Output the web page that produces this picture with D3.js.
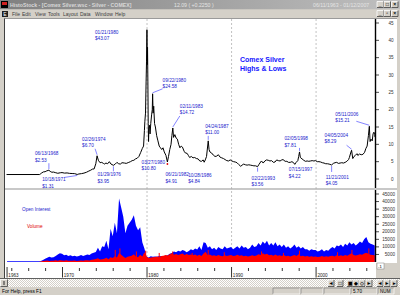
<!DOCTYPE html>
<html>
<head>
<meta charset="utf-8">
<script src="https://cdn.jsdelivr.net/npm/d3@7"></script>
<style>
body { margin: 0; background: #d4d0c8; }
svg { display: block; font-family: "Liberation Sans", Arial, sans-serif; }
</style>
</head>
<body>
<svg id="chart" width="400" height="295"></svg>
<script>
// Comex silver daily price ($/oz)
var priceDates = [1963.44, 1967.35, 1967.5, 1967.6, 1967.8, 1968.0, 1968.2, 1968.45, 1968.6, 1968.8,
    1969.0, 1969.2, 1969.5, 1969.8, 1970.0, 1970.3, 1970.6, 1970.9, 1971.2, 1971.5,
    1971.8, 1972.0, 1972.3, 1972.6, 1972.9, 1973.1, 1973.4, 1973.6, 1973.8, 1974.0,
    1974.15, 1974.3, 1974.5, 1974.7, 1974.9, 1975.0, 1975.2, 1975.4, 1975.6, 1975.8,
    1976.08, 1976.3, 1976.5, 1976.7, 1976.9, 1977.1, 1977.4, 1977.6, 1977.9, 1978.1,
    1978.3, 1978.5, 1978.7, 1978.9, 1979.1, 1979.3, 1979.5, 1979.65, 1979.75, 1979.8,
    1979.88, 1979.95, 1980.0, 1980.05, 1980.09, 1980.12, 1980.16, 1980.2, 1980.24, 1980.28,
    1980.35, 1980.42, 1980.5, 1980.6, 1980.68, 1980.72, 1980.78, 1980.85, 1980.95, 1981.05,
    1981.2, 1981.35, 1981.5, 1981.65, 1981.8, 1981.95, 1982.1, 1982.3, 1982.47, 1982.6,
    1982.75, 1982.9, 1983.0, 1983.11, 1983.2, 1983.35, 1983.5, 1983.65, 1983.8, 1983.95,
    1984.1, 1984.25, 1984.45, 1984.6, 1984.8, 1984.95, 1985.1, 1985.3, 1985.5, 1985.7,
    1985.9, 1986.1, 1986.3, 1986.5, 1986.7, 1986.82, 1986.95, 1987.1, 1987.3, 1987.4,
    1987.5, 1987.7, 1987.9, 1988.1, 1988.3, 1988.5, 1988.7, 1988.9, 1989.1, 1989.3,
    1989.5, 1989.7, 1989.9, 1990.1, 1990.3, 1990.5, 1990.7, 1990.9, 1991.15, 1991.3,
    1991.5, 1991.7, 1991.9, 1992.1, 1992.3, 1992.5, 1992.7, 1992.9, 1993.14, 1993.3,
    1993.5, 1993.6, 1993.8, 1994.0, 1994.2, 1994.4, 1994.6, 1994.8, 1995.0, 1995.2,
    1995.4, 1995.6, 1995.8, 1996.0, 1996.15, 1996.4, 1996.6, 1996.8, 1997.0, 1997.2,
    1997.4, 1997.54, 1997.7, 1997.9, 1998.0, 1998.1, 1998.2, 1998.4, 1998.6, 1998.8,
    1999.0, 1999.2, 1999.4, 1999.6, 1999.8, 2000.0, 2000.2, 2000.4, 2000.6, 2000.8,
    2001.0, 2001.2, 2001.4, 2001.6, 2001.9, 2002.1, 2002.3, 2002.5, 2002.7, 2002.9,
    2003.1, 2003.3, 2003.5, 2003.7, 2003.9, 2004.0, 2004.15, 2004.26, 2004.4, 2004.55,
    2004.7, 2004.9, 2005.0, 2005.2, 2005.4, 2005.6, 2005.8, 2005.95, 2006.1, 2006.25,
    2006.36, 2006.45, 2006.55, 2006.7, 2006.8, 2006.9, 2007.0, 2007.03];
var priceValues = [1.29, 1.29, 1.55, 1.75, 2.05, 2.10, 2.35, 2.53, 2.20, 1.95,
    2.00, 1.85, 1.65, 1.80, 1.85, 1.70, 1.75, 1.62, 1.58, 1.55,
    1.31, 1.45, 1.55, 1.70, 1.95, 2.20, 2.55, 2.85, 2.90, 4.40,
    6.70, 5.40, 4.70, 4.80, 4.50, 4.30, 4.60, 4.40, 5.00, 4.30,
    3.95, 4.30, 4.80, 4.40, 4.30, 4.70, 4.60, 4.50, 4.80, 5.00,
    5.30, 5.40, 5.80, 6.00, 6.50, 7.60, 8.80, 9.50, 14.0, 16.5,
    19.0, 28.0, 34.0, 43.07, 33.0, 38.0, 28.0, 16.0, 10.80, 14.5,
    15.5, 13.0, 16.0, 18.5, 20.0, 24.58, 19.0, 21.0, 16.0, 15.0,
    12.5, 11.0, 9.5, 9.0, 8.5, 9.0, 7.8, 6.8, 4.91, 6.5,
    8.5, 10.0, 12.5, 14.72, 12.0, 12.8, 11.8, 11.5, 10.0, 9.0,
    9.5, 9.2, 8.0, 7.5, 7.4, 6.8, 6.2, 6.5, 6.1, 6.2,
    5.9, 5.8, 5.2, 5.1, 5.5, 4.84, 5.5, 6.5, 11.0, 8.5,
    7.8, 7.5, 6.9, 6.5, 6.6, 7.0, 6.3, 6.1, 5.9, 5.6,
    5.3, 5.2, 5.5, 5.2, 5.0, 4.9, 4.7, 4.2, 3.65, 4.0,
    4.3, 4.1, 4.0, 4.1, 4.0, 3.9, 3.8, 3.8, 3.56, 4.2,
    4.9, 5.2, 4.6, 5.2, 5.5, 5.4, 5.2, 5.3, 4.8, 4.9,
    5.5, 5.3, 5.2, 5.5, 5.6, 5.1, 5.1, 4.8, 4.8, 5.0,
    4.7, 4.22, 4.8, 5.3, 6.5, 7.81, 6.2, 5.8, 5.4, 5.1,
    5.2, 5.1, 5.2, 5.3, 5.2, 5.3, 5.0, 5.0, 4.9, 4.7,
    4.6, 4.4, 4.4, 4.3, 4.05, 4.5, 4.7, 4.8, 4.5, 4.6,
    4.7, 4.6, 4.8, 5.1, 5.6, 6.2, 7.5, 8.29, 5.9, 6.5,
    6.8, 7.3, 6.8, 7.2, 7.0, 7.1, 7.7, 8.8, 9.5, 12.5,
    15.21, 10.8, 11.5, 11.0, 13.0, 13.5, 12.8, 12.09];

// highs & lows annotations
var annDates = [1968.45, 1971.8, 1974.15, 1976.08, 1980.05, 1980.24, 1980.72, 1982.47, 1983.11,
    1986.82, 1987.3, 1993.14, 1997.54, 1998.1, 2001.9, 2004.26, 2006.36];
var annPrices = [2.53, 1.31, 6.70, 3.95, 43.07, 10.80, 24.58, 4.91, 14.72,
    4.84, 11.00, 3.56, 4.22, 7.81, 4.05, 8.29, 15.21];
var annDateText = ["06/13/1968", "10/18/1971", "02/26/1974", "01/29/1976", "01/21/1980", "03/27/1980",
    "09/22/1980", "06/21/1982", "02/11/1983", "10/28/1986", "04/24/1987", "02/22/1993",
    "07/15/1997", "02/05/1998", "11/21/2001", "04/05/2004", "05/11/2006"];

// quarterly open interest and volume, thousands of contracts, from 1963.50
var quarterStart = 1963.5;
var openInterest = [0, 0,
    0, 0, 0, 0,  0, 0, 0, 0,  0, 0, 0, 0,  0, 0, 0.6, 1.4,
    2.2, 2.8, 3.4, 3.0,  3.2, 4.0, 5.0, 5.8,  5.5, 4.4, 4.8, 4.0,  4.5, 3.8, 4.2, 3.6,
    4.0, 4.6, 3.9, 4.4,  5.0, 4.6, 5.6, 6.2,  6.6, 9.5, 7.0, 10.5,  10.0, 14.0, 8.5, 22.0,
    17.0, 26.0, 19.0, 42.0,  36.0, 30.0, 19.0, 24.0,  26.0, 28.0, 31.0, 24.0,  21.0, 23.0, 13.0, 9.0,
    3.5, 3.0, 3.8, 3.5,  3.6, 3.4, 4.0, 3.8,  3.7, 4.2, 4.5, 5.5,  6.0, 7.0, 6.5, 7.5,
    7.0, 8.0, 7.5, 6.5,  7.2, 8.5, 7.8, 9.0,  8.2, 10.5, 8.0, 13.0,  12.5, 9.5, 10.5, 8.5,
    9.5, 8.0, 10.0, 9.0,  8.5, 10.5, 9.0, 9.5,  10.0, 8.5, 9.5, 10.5,  9.0, 11.0, 9.5, 10.0,
    8.5, 9.5, 11.5, 10.0,  10.5, 12.5, 11.0, 13.5,  12.0, 14.0, 11.0, 12.5,  11.0, 13.0, 10.5, 11.5,
    10.0, 11.5, 9.5, 10.5,  9.0, 10.0, 11.5, 9.5,  10.5, 9.0, 10.0, 8.5,  8.5, 7.5, 8.5, 8.0,
    8.0, 7.0, 7.5, 8.5,  7.0, 8.0, 7.5, 9.0,  10.0, 9.0, 11.0, 10.5,  11.5, 10.0, 12.0, 11.0,
    13.0, 11.5, 12.5, 11.0,  12.0, 13.5, 12.5, 15.0,  16.5, 13.0, 12.0, 11.5,
    11.0];
var volume = [0, 0,
    0, 0, 0, 0,  0, 0, 0, 0,  0, 0, 0, 0,  0, 0, 0.3, 0.6,
    0.8, 1.0, 0.7, 0.9,  0.8, 1.1, 0.9, 1.2,  1.0, 0.9, 1.2, 0.8,  0.9, 0.8, 1.0, 0.7,
    0.8, 1.0, 0.9, 1.1,  1.2, 1.0, 1.5, 1.7,  2.0, 2.4, 1.6, 1.9,  2.2, 2.8, 1.9, 3.2,
    2.6, 3.8, 3.0, 6.0,  4.8, 3.6, 2.6, 3.4,  3.8, 4.2, 5.2, 3.6,  3.2, 4.8, 3.6, 6.5,
    3.6, 2.6, 2.9, 3.1,  3.3, 3.6, 3.1, 3.9,  4.1, 4.6, 4.3, 5.2,  5.8, 4.8, 5.3, 4.6,
    5.1, 5.6, 4.7, 5.3,  4.6, 5.0, 4.4, 4.9,  4.2, 4.8, 4.0, 5.6,  6.8, 4.5, 4.9, 4.2,
    4.4, 3.9, 4.6, 4.1,  3.8, 4.5, 4.0, 4.3,  4.6, 3.9, 4.2, 4.8,  4.1, 4.5, 3.8, 4.2,
    3.6, 4.0, 4.4, 3.9,  4.3, 5.2, 4.6, 5.8,  4.9, 5.5, 4.4, 4.8,  4.2, 5.0, 4.1, 4.5,
    4.0, 4.6, 3.8, 4.2,  3.7, 4.1, 4.6, 3.9,  5.2, 3.8, 4.1, 3.6,  3.9, 3.4, 3.8, 3.5,
    3.7, 3.3, 3.5, 3.9,  3.4, 3.8, 3.5, 3.9,  4.1, 3.7, 4.4, 4.0,  4.5, 3.9, 4.6, 4.2,
    5.0, 5.8, 4.6, 4.3,  4.6, 5.2, 4.8, 5.6,  6.2, 5.4, 4.8, 4.6,
    4.4];
// single-day volume spikes that stand out of the red band
var spikeDates = [1976.3, 1976.85, 1978.8, 1979.9, 1981.5, 1983.1, 1985.4, 1987.3, 1989.2,
    1993.6, 1996.2, 1998.1, 2002.6, 2004.3, 2006.3];
var spikeValues = [8.0, 9.0, 7.0, 7.5, 6.0, 7.0, 6.0, 8.0, 6.5, 7.0, 6.0, 7.5, 6.5, 8.0, 9.0];

var priceTicks = [0, 5, 10, 15, 20, 25, 30, 35, 40, 45];
var volumeTicks = [5, 10, 15, 20, 25, 30, 35, 40, 45];
var decadeTicks = [1970, 1980, 1990, 2000];
var yearTicks = [1964, 1966, 1968, 1972, 1974, 1976, 1978, 1982, 1984, 1986, 1988, 1992, 1994,
    1996, 1998, 2002, 2004, 2006];
var menuItems = ["File", "Edit", "View", "Tools", "Layout", "Data", "Window", "Help"];

var svg = d3.select("#chart");
var grey = "#d4d0c8";

// scales
var x = d3.scaleLinear().domain([1970, 2007.03]).range([62, 375]);
var yPrice = d3.scaleLinear().domain([0, 45]).range([179, 23]);
var yVol = d3.scaleLinear().domain([0, 45]).range([262, 194]);

var defs = svg.append("defs");
var grad = defs.append("linearGradient").attr("id", "titleGrad");
grad.append("stop").attr("offset", "0%").attr("stop-color", "#808080");
grad.append("stop").attr("offset", "100%").attr("stop-color", "#c0c0c0");
var pat = defs.append("pattern").attr("id", "dither").attr("width", 2).attr("height", 2)
    .attr("patternUnits", "userSpaceOnUse");
pat.append("rect").attr("width", 2).attr("height", 2).attr("fill", "#ffffff");
pat.append("rect").attr("width", 1).attr("height", 1).attr("fill", grey);
pat.append("rect").attr("x", 1).attr("y", 1).attr("width", 1).attr("height", 1).attr("fill", grey);
defs.append("clipPath").attr("id", "upperClip").append("rect")
    .attr("x", 5).attr("y", 19).attr("width", 370).attr("height", 169);
defs.append("clipPath").attr("id", "lowerClip").append("rect")
    .attr("x", 5).attr("y", 190).attr("width", 370).attr("height", 72);

// small raised button
function button(x0, y0, w, h, glyph) {
    var b = svg.append("g");
    b.append("rect").attr("x", x0).attr("y", y0).attr("width", w).attr("height", h).attr("fill", grey);
    b.append("path").attr("d", "M" + x0 + "," + (y0 + h) + "V" + y0 + "H" + (x0 + w))
        .attr("stroke", "#fff").attr("stroke-width", 0.8).attr("fill", "none");
    b.append("path").attr("d", "M" + x0 + "," + (y0 + h) + "H" + (x0 + w) + "V" + y0)
        .attr("stroke", "#404040").attr("stroke-width", 0.8).attr("fill", "none");
    if (glyph) {
        b.append("text").attr("x", x0 + w / 2).attr("y", y0 + h - 1.5).attr("text-anchor", "middle")
            .attr("font-size", 5).attr("font-weight", "bold").attr("fill", "#000").text(glyph);
    }
}

// title bar
svg.append("rect").attr("width", 400).attr("height", 9.5).attr("fill", "url(#titleGrad)");
svg.append("rect").attr("x", 1).attr("y", 1).attr("width", 7).attr("height", 7).attr("fill", "#000");
svg.append("rect").attr("x", 2).attr("y", 2).attr("width", 5).attr("height", 3).attr("fill", "#d02020");
svg.append("text").attr("x", 10).attr("y", 7).attr("font-size", 5.2).attr("font-weight", "bold")
    .attr("fill", "#d8d8d8").text("HistoStock - [Comex Silver.wsc - Silver - COMEX]");
svg.append("text").attr("x", 174).attr("y", 7).attr("font-size", 5.2)
    .attr("fill", "#e4e4e4").text("12.09 ( +0.2250 )");
svg.append("text").attr("x", 313).attr("y", 7).attr("font-size", 5.2)
    .attr("fill", "#e4e4e4").text("06/11/1963 - 01/12/2007");
button(377, 1.5, 6.5, 6, "_");
button(384, 1.5, 6.5, 6, "□");
button(391.5, 1.5, 6.5, 6, "×");

// menu bar
svg.append("rect").attr("y", 9.5).attr("width", 400).attr("height", 8.5).attr("fill", grey);
svg.append("rect").attr("x", 2).attr("y", 11).attr("width", 6).attr("height", 6).attr("fill", "#202020");
svg.append("text").attr("x", 3.2).attr("y", 16).attr("font-size", 5).attr("fill", "#fff").text("E");
var menuX = [12, 22, 35, 48, 63, 80, 95, 115];
menuItems.forEach(function(m, i) {
    svg.append("text").attr("x", menuX[i]).attr("y", 16).attr("font-size", 5)
        .attr("fill", "#404040").text(m);
});
button(377, 10.5, 6.5, 6, "_");
button(384, 10.5, 6.5, 6, "▫");
button(391.5, 10.5, 6.5, 6, "×");

// chart area frame
svg.append("rect").attr("x", 4).attr("y", 18).attr("width", 393).attr("height", 260).attr("fill", "#fff");
svg.append("line").attr("x1", 4.5).attr("x2", 4.5).attr("y1", 18).attr("y2", 279)
    .attr("stroke", "#404040").attr("stroke-width", 1);
svg.append("line").attr("x1", 4).attr("x2", 397).attr("y1", 18.5).attr("y2", 18.5)
    .attr("stroke", "#808080").attr("stroke-width", 0.8);
svg.append("rect").attr("x", 397).attr("y", 18).attr("width", 3).attr("height", 262).attr("fill", grey);
svg.append("rect").attr("x", 5).attr("y", 188).attr("width", 392).attr("height", 2).attr("fill", "#c8c8c8");
svg.append("rect").attr("x", 376).attr("y", 263).attr("width", 21).attr("height", 16).attr("fill", grey);

// decade gridlines
svg.append("g").selectAll("line").data(decadeTicks.slice(1)).join("line")
    .attr("x1", function(d) { return x(d) + 0.5; }).attr("x2", function(d) { return x(d) + 0.5; })
    .attr("y1", 19).attr("y2", 262)
    .attr("stroke", "#a8a8a8").attr("stroke-width", 0.7).attr("stroke-dasharray", "2,2");

// price line
var priceData = priceDates.map(function(d, i) { return [d, priceValues[i]]; });
svg.append("path").datum(priceData).attr("clip-path", "url(#upperClip)")
    .attr("d", d3.line().x(function(d) { return x(d[0]); }).y(function(d) { return yPrice(d[1]); }))
    .attr("fill", "none").attr("stroke", "#000").attr("stroke-width", 1)
    .attr("stroke-linejoin", "round");

// red marker at the 1982 low
svg.append("circle").attr("cx", x(annDates[7])).attr("cy", yPrice(annPrices[7]) + 2)
    .attr("r", 0.9).attr("fill", "#e00000");

// annotations: label offset from the point [dx, first line dy], and pointer ends
var labelOffset = [[-14, -15], [-35, 7], [-15, -15], [-16, 11], [-52, 4], [-7, 22], [10, -12],
    [-2, 14.5], [7, -20], [-16, 14.5], [-3, -13], [-6, 13], [-6, 7], [-15, -11.5], [-6, 14], [-27, -13.5], [-34, -10.5]];
var pointerFrom = [[0, -7], [-13, 3], [-2, -7], [0, 6], null, null, [10, -5], null, [7, -12],
    null, [0, -5], [0, 5], null, [0, -4], [0, 7], [-5, -5], [-13, -5]];
var ann = svg.append("g").attr("font-size", 4.7).attr("fill", "#1a1acc");
annDates.forEach(function(d, i) {
    var px = x(d), py = yPrice(annPrices[i]);
    var lx = px + labelOffset[i][0], ly = py + labelOffset[i][1];
    ann.append("text").attr("x", lx).attr("y", ly).text(annDateText[i]);
    ann.append("text").attr("x", lx).attr("y", ly + 6.3).text("$" + annPrices[i].toFixed(2));
    if (pointerFrom[i]) {
        ann.append("line").attr("x1", px + pointerFrom[i][0]).attr("y1", py + pointerFrom[i][1])
            .attr("x2", px).attr("y2", py - (pointerFrom[i][1] < 0 ? 1 : -1))
            .attr("stroke", "#3030ff").attr("stroke-width", 0.6);
    }
});

// chart title
svg.append("text").attr("x", 240).attr("y", 61.5).attr("font-size", 7).attr("font-weight", "bold")
    .attr("fill", "#1515ff").text("Comex Silver");
svg.append("text").attr("x", 240).attr("y", 70.5).attr("font-size", 7).attr("font-weight", "bold")
    .attr("fill", "#1515ff").text("Highs & Lows");

// right price axis
svg.append("line").attr("x1", 375.5).attr("x2", 375.5).attr("y1", 19).attr("y2", 188)
    .attr("stroke", "#000").attr("stroke-width", 1.4);
var pAxis = svg.append("g").attr("font-size", 4.6).attr("fill", "#333");
priceTicks.forEach(function(t) {
    pAxis.append("line").attr("x1", 375).attr("x2", 379).attr("y1", yPrice(t)).attr("y2", yPrice(t))
        .attr("stroke", "#000").attr("stroke-width", 0.7);
    pAxis.append("text").attr("x", 393.5).attr("y", yPrice(t) + 1.6).attr("text-anchor", "end").text(t);
});

// open interest and volume
var quarterData = openInterest.map(function(v, i) {
    return { date: quarterStart + i * 0.25, oi: v, vol: volume[i] };
});
var lower = svg.append("g").attr("clip-path", "url(#lowerClip)");
lower.append("path").datum(quarterData)
    .attr("d", d3.area().x(function(d) { return x(d.date); }).y0(yVol(0)).y1(function(d) { return yVol(d.oi); }))
    .attr("fill", "#0000ff");
lower.append("line").attr("x1", x(quarterStart)).attr("x2", 375).attr("y1", 261.5).attr("y2", 261.5)
    .attr("stroke", "#4040ff").attr("stroke-width", 1);
lower.append("path").datum(quarterData)
    .attr("d", d3.area().x(function(d) { return x(d.date); }).y0(yVol(0)).y1(function(d) { return yVol(d.vol); }))
    .attr("fill", "#ff0000");
lower.selectAll("rect.spike").data(spikeDates).join("rect").attr("class", "spike")
    .attr("x", function(d) { return x(d) - 0.5; }).attr("width", 1)
    .attr("y", function(d, i) { return yVol(spikeValues[i]); })
    .attr("height", function(d, i) { return yVol(0) - yVol(spikeValues[i]); })
    .attr("fill", "#ff0000");

svg.append("text").attr("x", 22).attr("y", 210.5).attr("font-size", 4.7).attr("fill", "#1a1acc").text("Open Interest");
svg.append("text").attr("x", 27).attr("y", 228).attr("font-size", 4.7).attr("fill", "#e00000").text("Volume");

// right volume axis
svg.append("line").attr("x1", 375.5).attr("x2", 375.5).attr("y1", 190).attr("y2", 262)
    .attr("stroke", "#000").attr("stroke-width", 1.4);
var vAxis = svg.append("g").attr("font-size", 4.6).attr("fill", "#333");
volumeTicks.forEach(function(t) {
    vAxis.append("line").attr("x1", 375).attr("x2", 379).attr("y1", yVol(t)).attr("y2", yVol(t))
        .attr("stroke", "#000").attr("stroke-width", 0.7);
    vAxis.append("text").attr("x", 395).attr("y", yVol(t) + 1.6).attr("text-anchor", "end").text(t * 1000);
});
svg.append("rect").attr("x", 377).attr("y", 263).attr("width", 7).attr("height", 6)
    .attr("fill", "#fff").attr("stroke", "#808080").attr("stroke-width", 0.5);
svg.append("text").attr("x", 378).attr("y", 267.8).attr("font-size", 4.2).attr("fill", "#000").text("-1");

// date axis
var xAxis = svg.append("g");
yearTicks.forEach(function(t) {
    xAxis.append("line").attr("x1", x(t) + 0.5).attr("x2", x(t) + 0.5).attr("y1", 268).attr("y2", 271)
        .attr("stroke", "#000").attr("stroke-width", 0.8);
});
[quarterStart - 0.06].concat(decadeTicks).forEach(function(t, i) {
    xAxis.append("line").attr("x1", x(t) + 0.5).attr("x2", x(t) + 0.5).attr("y1", 267).attr("y2", 277.5)
        .attr("stroke", "#000").attr("stroke-width", 0.8);
    xAxis.append("text").attr("x", x(t) + 1.8).attr("y", 277).attr("font-size", 4.6).attr("fill", "#222")
        .text(i === 0 ? "1963" : t);
});

// scroll bar
svg.append("rect").attr("y", 278).attr("width", 400).attr("height", 1).attr("fill", "#606060");
svg.append("rect").attr("y", 279).attr("width", 400).attr("height", 8).attr("fill", "url(#dither)");
button(0.5, 279.5, 7, 7, "");
svg.append("line").attr("x1", 4).attr("x2", 4).attr("y1", 281).attr("y2", 285).attr("stroke", "#000").attr("stroke-width", 0.8);
var scrollGlyphs = ["◄", "□", "▣", "◆", "◇", "►", "◄", "►", "▸"];
var scrollX = [328, 337, 347, 353, 359, 366, 377, 384, 391];
scrollGlyphs.forEach(function(g, i) { button(scrollX[i], 280, 6, 6.5, g); });

// status bar
svg.append("rect").attr("y", 287).attr("width", 400).attr("height", 8).attr("fill", grey);
svg.append("text").attr("x", 2).attr("y", 293.3).attr("font-size", 4.8).attr("fill", "#000").text("For Help, press F1");
var panelX = [273, 301, 324, 351, 378];
var panelW = [27, 22, 26, 26, 16];
var panelText = ["", "", "", "5.70", "NUM"];
panelX.forEach(function(px, i) {
    svg.append("path").attr("d", "M" + px + ",294V288H" + (px + panelW[i]))
        .attr("stroke", "#808080").attr("stroke-width", 0.7).attr("fill", "none");
    svg.append("path").attr("d", "M" + px + ",294H" + (px + panelW[i]) + "V288")
        .attr("stroke", "#fff").attr("stroke-width", 0.7).attr("fill", "none");
    if (panelText[i]) {
        svg.append("text").attr("x", px + 2).attr("y", 293).attr("font-size", 4.6).attr("fill", "#000").text(panelText[i]);
    }
});
</script>
</body>
</html>
